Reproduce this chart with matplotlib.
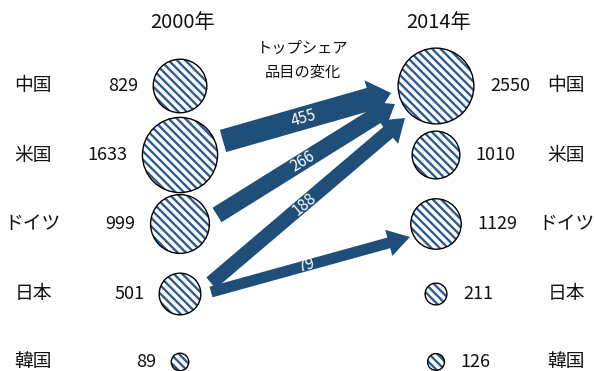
import math
import matplotlib
matplotlib.use("Agg")
import matplotlib.pyplot as plt
from matplotlib.patches import Circle, FancyArrow

plt.rcParams['font.family'] = ['Noto Sans CJK JP', 'DejaVu Sans']
plt.rcParams['hatch.linewidth'] = 1.7

# Data: number of top-share products by country
countries = ["中国", "米国", "ドイツ", "日本", "韓国"]
years = ["2000年", "2014年"]
values_2000 = [829, 1633, 999, 501, 89]
values_2014 = [2550, 1010, 1129, 211, 126]

# Shifts of top-share products between countries (source row -> target row)
flow_src = [1, 2, 3, 3]
flow_dst = [0, 0, 0, 2]
flow_vals = [455, 266, 188, 79]

HATCH_BLUE = "#2d5b8e"
ARROW_BLUE = "#1f4e79"

W, H = 594, 371
fig = plt.figure(figsize=(W / 100, H / 100), dpi=100)
ax = fig.add_axes([0, 0, 1, 1])
ax.set_xlim(0, W)
ax.set_ylim(H, 0)
ax.axis("off")

row_y = [86, 155, 224, 294, 362]
col_x = [180, 436]
scale = [0.93, 0.75]   # pixels per sqrt(unit) for each year column
fs = 13


def bubble(cx, cy, r):
    ax.add_patch(Circle((cx, cy), r, facecolor="white", edgecolor=HATCH_BLUE,
                        hatch="\\" * 4, linewidth=0, zorder=2))
    ax.add_patch(Circle((cx, cy), r, facecolor="none", edgecolor="black",
                        linewidth=1.0, zorder=3))


for col, vals in enumerate([values_2000, values_2014]):
    cx = col_x[col]
    for i, v in enumerate(vals):
        r = scale[col] * math.sqrt(v)
        cy = row_y[i]
        bubble(cx, cy, r)
        if col == 0:
            ax.text(cx - r - 15, cy, f"{v}", ha="right", va="center",
                    fontsize=fs, color="#111111")
        else:
            ax.text(cx + r + 16, cy, f"{v}", ha="left", va="center",
                    fontsize=fs, color="#111111")

for i, name in enumerate(countries):
    ax.text(33, row_y[i], name, ha="center", va="center", fontsize=13.5, color="#111111")
    ax.text(566, row_y[i], name, ha="center", va="center", fontsize=13.5, color="#111111")

for col, yr in enumerate(years):
    ax.text(col_x[col] + 3, 22, yr, ha="center", va="center", fontsize=14.5,
            color="#111111")

ax.text(303, 60, "トップシェア\n品目の変化", ha="center", va="center",
        fontsize=11, linespacing=1.55, color="#111111")

# Arrow anchor points (tail, tip) for each flow
tails = [(223, 141), (217, 215), (211, 283), (211, 292)]
tips = [(391, 93), (395, 104), (405, 118), (410, 237)]

for k, v in enumerate(flow_vals):
    (x0, y0), (x1, y1) = tails[k], tips[k]
    w = 8.5 + 0.032 * v
    ax.add_patch(FancyArrow(x0, y0, x1 - x0, y1 - y0, width=w,
                            head_width=w + 16, head_length=22,
                            length_includes_head=True, facecolor=ARROW_BLUE,
                            edgecolor="none", zorder=4))
    t = 0.48
    lx, ly = x0 + t * (x1 - x0), y0 + t * (y1 - y0)
    ang = math.degrees(math.atan2(y0 - y1, x1 - x0))
    ax.text(lx, ly, f"{v}", ha="center", va="center", rotation=ang,
            rotation_mode="anchor", fontsize=11, color="white", zorder=5)

fig.savefig("out.png", dpi=100)
